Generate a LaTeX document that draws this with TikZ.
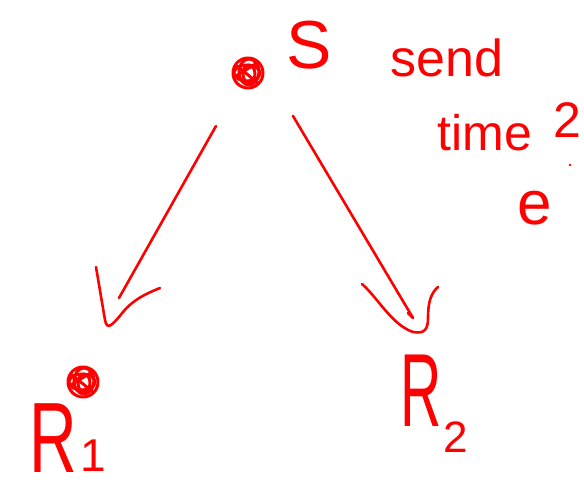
\documentclass[tikz,border=0pt]{standalone}
\usepackage{fontspec}
\setmainfont{Liberation Sans}
\definecolor{ink}{RGB}{255,0,0}
\tikzset{
  pen/.style={draw=ink, line width=2.6pt, line cap=round, line join=round},
  word/.style={text=ink, inner sep=0pt, anchor=center},
  blob/.style={pen, line width=3pt}
}
\begin{document}
\begin{tikzpicture}[x=1pt,y=-1pt]
\useasboundingbox (0,0) rectangle (584,494);

% scribbled dots marking the sender and the first receiver
\coordinate (sdot) at (248,73);
\coordinate (rdot) at (83,382);
\foreach \c in {sdot,rdot}{
  \draw[blob] (\c) ellipse (15pt and 15pt);
  \draw[blob] ([shift={(1pt,1pt)}]\c) ellipse (10pt and 13pt);
  \draw[blob] ([shift={(-1pt,0pt)}]\c) ellipse (13pt and 8pt);
  \draw[blob] ([shift={(1pt,-1pt)}]\c) ellipse (6pt and 9pt);
  \draw[blob] ([shift={(-11pt,7pt)}]\c) -- ([shift={(10pt,-10pt)}]\c);
  \draw[blob] ([shift={(-12pt,-3pt)}]\c) -- ([shift={(9pt,10pt)}]\c);
}

% labels
\node[word, font=\fontsize{68}{68}\selectfont] (S) at (309,45) {S};
\node[word, font=\fontsize{52}{52}\selectfont] (send) at (447,58) {send};
\node[word, font=\fontsize{50}{50}\selectfont] (time) at (485,133) {time};
\node[word, font=\fontsize{50}{50}\selectfont] (two) at (567,120) {2};
\node[word, font=\fontsize{62}{62}\selectfont] (e) at (535,208) {e};
\fill[ink] (570,165) circle (1.4pt);

\node[word, font=\fontsize{100}{100}\selectfont, xscale=0.66, transform shape] (R1) at (53,438) {R};
\node[word, font=\fontsize{46}{46}\selectfont] (one) at (93,456) {1};
\node[word, font=\fontsize{104}{104}\selectfont, xscale=0.55, transform shape] (R2) at (421,391) {R};
\node[word, font=\fontsize{44}{44}\selectfont] (two2) at (456,437) {2};

% arrow from the sender down to the first receiver
\coordinate (a1) at (216,126);
\coordinate (b1) at (119,298);
\coordinate (h1s) at (96,267);
\coordinate (h1e) at (160,288);
\draw[pen] (a1) -- (b1);
\draw[pen] (h1s) -- (105,320) .. controls (107,330) and (111,327) .. (123,312)
  .. controls (133,300) and (145,294) .. (h1e);

% arrow from the sender down to the second receiver
\coordinate (a2) at (293,116);
\coordinate (b2) at (413,318);
\coordinate (h2s) at (362,284);
\coordinate (h2e) at (438,287);
\draw[pen] (a2) -- (b2);
\draw[pen] (b2) -- (408,313);
\draw[pen] (h2s) .. controls (378,298) and (392,325) .. (413,332)
  .. controls (424,334) and (428,330) .. (428,318)
  .. controls (428,302) and (431,293) .. (h2e);
\end{tikzpicture}
\end{document}
